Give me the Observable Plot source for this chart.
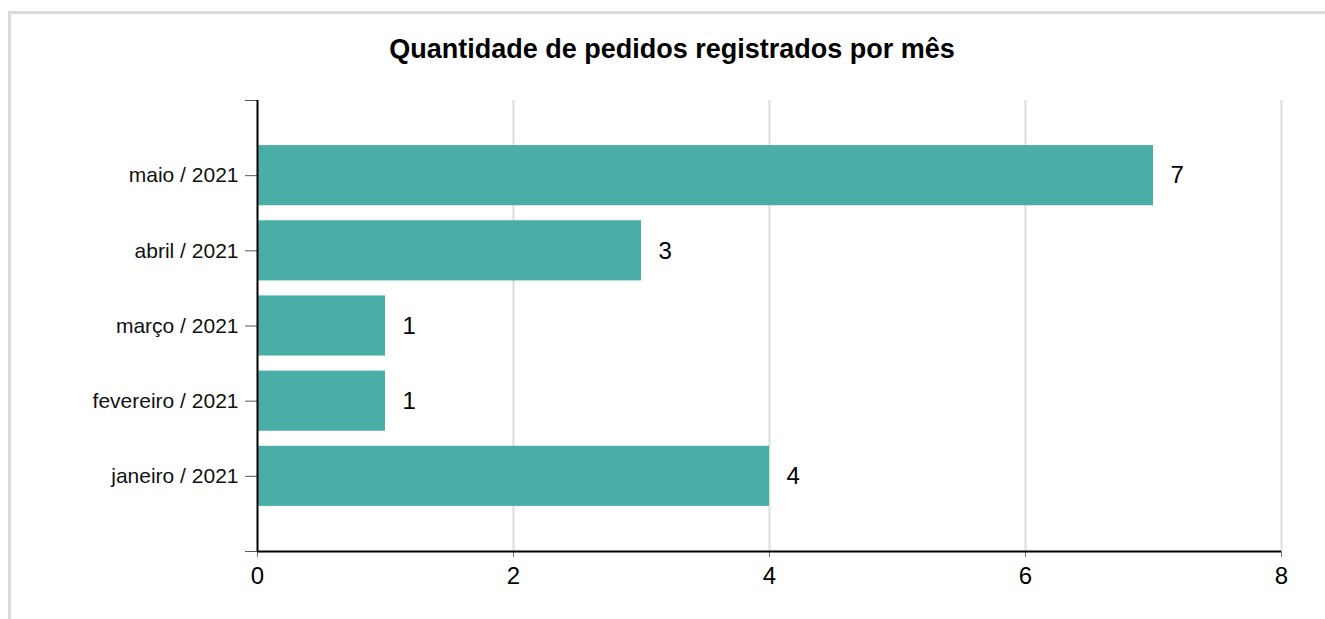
<!DOCTYPE html>
<html>
<head>
<meta charset="utf-8">
<script src="https://cdn.jsdelivr.net/npm/d3@7"></script>
<script src="https://cdn.jsdelivr.net/npm/@observablehq/plot@0.6"></script>
<style>
  html, body { margin: 0; padding: 0; background: #fff; }
  body { width: 1325px; height: 619px; overflow: hidden; position: relative; font-family: "Liberation Sans", Arial, sans-serif; }
  #frame { position: absolute; left: 8px; top: 11px; width: 1330px; height: 700px; border-left: 3px solid #dadada; border-top: 3px solid #dadada; box-sizing: border-box; }
  #title { position: relative; height: 80px; box-sizing: border-box; padding-top: 35px; padding-left: 19px; text-align: center; font-weight: bold; font-size: 27px; line-height: 28px; color: #000; }
  #chart { position: relative; }
  #chart svg { display: block; }
</style>
</head>
<body>
<div id="frame"></div>
<div id="title">Quantidade de pedidos registrados por mês</div>
<div id="chart"></div>
<script>
const months = ["janeiro / 2021", "fevereiro / 2021", "março / 2021", "abril / 2021", "maio / 2021"];
const counts = [4, 1, 1, 3, 7];
const xTicks = [0, 2, 4, 6, 8];
const yTicks = [0, 1, 2, 3, 4, 5, 6];

const data = months.map((m, i) => ({month: m, count: counts[i], pos: i + 1}));

const chart = Plot.plot({
  width: 1325,
  height: 539,
  marginLeft: 257,
  marginRight: 44,
  marginTop: 20,
  marginBottom: 68,
  style: {fontFamily: "'Liberation Sans', Arial, sans-serif", background: "transparent", color: "#000"},
  x: {domain: [0, 8], label: null},
  y: {domain: [0, 6], label: null},
  marks: [
    Plot.ruleX(xTicks.slice(1), {stroke: "#dcdcdc", strokeWidth: 2}),
    Plot.rectX(data, {x1: 0, x2: "count", y1: d => d.pos - 0.4, y2: d => d.pos + 0.4, fill: "#48aea6"}),
    Plot.text(data, {x: "count", y: "pos", text: d => String(d.count), dx: 17, textAnchor: "start", fontSize: 24, fill: "#000"}),
    Plot.axisX({ticks: xTicks, tickSize: 6, tickPadding: 9, fontSize: 24, stroke: "#777", fill: "#000", label: null, tickFormat: d => String(d)}),
    Plot.axisY({ticks: yTicks, tickSize: 12, tickPadding: 7, fontSize: 21, stroke: "#555", fill: "#111", label: null, tickFormat: d => months[d - 1] ?? ""}),
    Plot.ruleY([0], {stroke: "#000", strokeWidth: 2}),
    Plot.ruleX([0], {stroke: "#000", strokeWidth: 2})
  ]
});
document.getElementById("chart").appendChild(chart);
</script>
</body>
</html>
